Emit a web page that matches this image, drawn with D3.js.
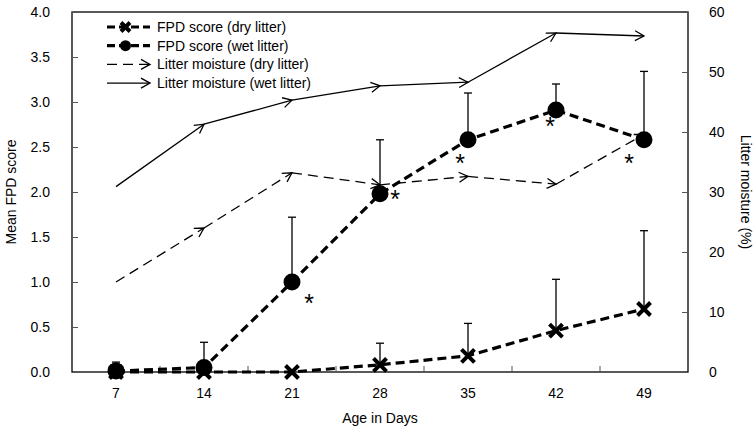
<!DOCTYPE html>
<html><head><meta charset="utf-8">
<script src="https://cdn.jsdelivr.net/npm/d3@7"></script>
<style>body{margin:0;background:#fff}svg{display:block;font-family:"Liberation Sans",Arial,sans-serif}</style>
</head><body><svg id="c" width="756" height="431"></svg>
<script>
const days = ["7","14","21","28","35","42","49"];
const fpdDry = [0, 0, 0, 0.08, 0.18, 0.46, 0.70];
const fpdDryErr = [0, 0, 0, 0.32, 0.54, 1.03, 1.57];
const fpdWet = [0.01, 0.05, 1.0, 1.98, 2.58, 2.91, 2.58];
const fpdWetErr = [0.11, 0.33, 1.72, 2.58, 3.1, 3.2, 3.34];
const moistDry = [15.0, 24.0, 33.2, 31.2, 32.6, 31.3, 39.6];
const moistWet = [30.9, 41.3, 45.3, 47.7, 48.3, 56.5, 56.0];
const signif = [false, false, true, true, true, true, true];
const starOffset = [[0,0],[0,0],[17,16],[15,0],[-8,18],[-6,11],[-15,18]];
const leftTicks = [0,0.5,1,1.5,2,2.5,3,3.5,4];
const rightTicks = [0,10,20,30,40,50,60];
const legendLabels = ["FPD score (dry litter)","FPD score (wet litter)","Litter moisture (dry litter)","Litter moisture (wet litter)"];

const svg = d3.select("#c");
const L=72, R=688, T=12, B=372;
const x = d3.scaleBand().domain(days).range([L,R]);
const xc = d => x(d) + x.bandwidth()/2;
const y = d3.scaleLinear().domain([0,4]).range([B,T]);
const y2 = d3.scaleLinear().domain([0,60]).range([B,T]);

const defs = svg.append("defs");
defs.append("marker").attr("id","arr").attr("viewBox","-10 -6 12 12")
  .attr("refX",0).attr("refY",0).attr("markerWidth",12).attr("markerHeight",12)
  .attr("markerUnits","userSpaceOnUse").attr("orient","auto")
  .append("path").attr("d","M-9,-5 L0,0 L-9,5").attr("fill","none").attr("stroke","#000").attr("stroke-width",1.3);

svg.append("rect").attr("x",L).attr("y",T).attr("width",R-L).attr("height",B-T)
  .attr("fill","none").attr("stroke","#000").attr("stroke-width",1.3);

const gL = svg.append("g").attr("transform",`translate(${L},0)`)
  .call(d3.axisLeft(y).tickValues(leftTicks).tickFormat(d3.format(".1f")).tickSizeInner(-6).tickSizeOuter(0).tickPadding(22));
const gR = svg.append("g").attr("transform",`translate(${R},0)`)
  .call(d3.axisRight(y2).tickValues(rightTicks).tickSizeInner(-6).tickSizeOuter(0).tickPadding(21));
const gB = svg.append("g").attr("transform",`translate(0,${B})`)
  .call(d3.axisBottom(x).tickSize(0).tickPadding(16));
[gL,gR,gB].forEach(g=>{g.select(".domain").remove();
  g.selectAll("text").attr("font-size",14).attr("font-family","Liberation Sans, Arial, sans-serif").attr("fill","#000");
  g.selectAll("line").attr("stroke","#555").attr("stroke-width",1);});
svg.append("g").selectAll("line").data(days.slice(1)).join("line")
  .attr("x1",d=>x(d)).attr("x2",d=>x(d)).attr("y1",B).attr("y2",B-6).attr("stroke","#555");

svg.append("text").attr("transform",`translate(16,${(T+B)/2}) rotate(-90)`).attr("text-anchor","middle")
  .attr("font-size",14).text("Mean FPD score");
svg.append("text").attr("transform",`translate(741,${(T+B)/2}) rotate(90)`).attr("text-anchor","middle")
  .attr("font-size",14).text("Litter moisture (%)");
svg.append("text").attr("x",(L+R)/2).attr("y",423).attr("text-anchor","middle")
  .attr("font-size",14).text("Age in Days");

function moistLine(vals, dash){
  const g = svg.append("g");
  for(let i=1;i<vals.length;i++){
    g.append("line").attr("x1",xc(days[i-1])).attr("y1",y2(vals[i-1]))
      .attr("x2",xc(days[i])).attr("y2",y2(vals[i]))
      .attr("stroke","#000").attr("stroke-width",1.3)
      .attr("stroke-dasharray",dash).attr("marker-end","url(#arr)");
  }
}
moistLine(moistDry,"10,6");
moistLine(moistWet,null);

function errBars(vals, errs){
  const g = svg.append("g");
  days.forEach((d,i)=>{
    if(errs[i] <= vals[i]) return;
    g.append("line").attr("x1",xc(d)).attr("x2",xc(d)).attr("y1",y(vals[i])).attr("y2",y(errs[i]))
      .attr("stroke","#000").attr("stroke-width",1.3);
    g.append("line").attr("x1",xc(d)-4).attr("x2",xc(d)+4).attr("y1",y(errs[i])).attr("y2",y(errs[i]))
      .attr("stroke","#000").attr("stroke-width",1.3);
  });
}
errBars(fpdDry,fpdDryErr);
errBars(fpdWet,fpdWetErr);

const line = d3.line().x((v,i)=>xc(days[i])).y(v=>y(v));
svg.append("path").attr("d",line(fpdDry)).attr("fill","none").attr("stroke","#000").attr("stroke-width",3.2).attr("stroke-dasharray","9,5");
svg.append("path").attr("d",line(fpdWet)).attr("fill","none").attr("stroke","#000").attr("stroke-width",3.2).attr("stroke-dasharray","9,5");

function xMark(g,cx,cy,s){
  g.append("path").attr("d",`M${cx-s},${cy-s}L${cx+s},${cy+s}M${cx-s},${cy+s}L${cx+s},${cy-s}`)
    .attr("stroke","#000").attr("stroke-width",4).attr("fill","none");
}
const gm = svg.append("g");
fpdDry.forEach((v,i)=>xMark(gm,xc(days[i]),y(v),6.5));
fpdWet.forEach((v,i)=>gm.append("circle").attr("cx",xc(days[i])).attr("cy",y(v)).attr("r",8.5).attr("fill","#000"));

const starFs = 25;
svg.append("g").selectAll("text").data(days.filter((d,i)=>signif[i])).join("text")
  .attr("x",d=>xc(d)+starOffset[days.indexOf(d)][0])
  .attr("y",d=>y(fpdWet[days.indexOf(d)])+starOffset[days.indexOf(d)][1]+starFs*0.56)
  .attr("text-anchor","middle").attr("font-size",starFs).attr("fill","#000").text("*");

const lg = svg.append("g");
const ly0 = 27, ldy = 18.7, lx1 = 107, lx2 = 150;
legendLabels.forEach((t,i)=>{
  const yy = ly0 + i*ldy;
  lg.append("text").attr("x",157).attr("y",yy+5).attr("font-size",14).text(t);
});
[0,1].forEach(i=>{
  const yy = ly0 + i*ldy;
  lg.append("line").attr("x1",lx1).attr("x2",lx2).attr("y1",yy).attr("y2",yy)
    .attr("stroke","#000").attr("stroke-width",3.2).attr("stroke-dasharray","8,4");
});
xMark(lg,(lx1+lx2)/2-3,ly0,4.5);
lg.append("circle").attr("cx",(lx1+lx2)/2-3).attr("cy",ly0+ldy).attr("r",5.5).attr("fill","#000");
lg.append("line").attr("x1",lx1).attr("x2",lx2).attr("y1",ly0+2*ldy).attr("y2",ly0+2*ldy)
  .attr("stroke","#000").attr("stroke-width",1.3).attr("stroke-dasharray","10,6").attr("marker-end","url(#arr)");
lg.append("line").attr("x1",lx1).attr("x2",lx2).attr("y1",ly0+3*ldy).attr("y2",ly0+3*ldy)
  .attr("stroke","#000").attr("stroke-width",1.3).attr("marker-end","url(#arr)");
</script></body></html>
